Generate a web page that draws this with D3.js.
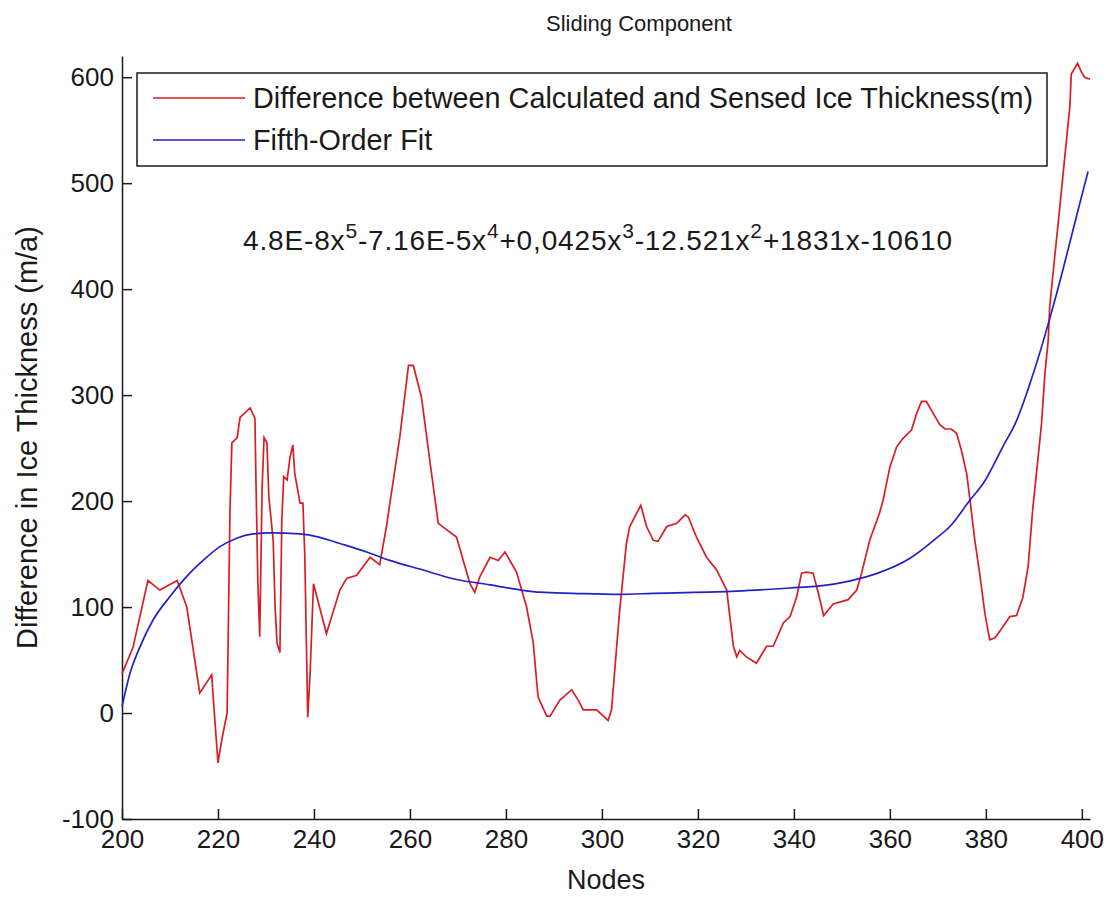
<!DOCTYPE html>
<html>
<head>
<meta charset="utf-8">
<script src="https://cdn.jsdelivr.net/npm/d3@7"></script>
<style>
  body { margin: 0; background: #fff; }
  text { font-family: "Liberation Sans", Arial, sans-serif; fill: #1a1a1a; }
</style>
</head>
<body>
<div id="chart"></div>
<script>
// data: node number and difference (m/a)
const redNodes = [200, 202.3, 205.4, 207.9, 211.5, 213.5, 216.2, 218.7, 219.0, 220.0,
  220.8, 221.9, 222.1, 222.5, 222.9, 224.0, 224.6, 226.7, 227.7, 227.9,
  228.3, 228.7, 229.2, 229.6, 230.2, 230.6, 231.5, 231.9, 232.3, 232.9,
  233.3, 233.7, 234.4, 235.0, 235.6, 236.0, 237.1, 237.7, 238.1, 238.7,
  239.2, 239.9, 242.6, 245.4, 246.8, 248.9, 251.7, 253.7, 255.1, 257.9,
  259.7, 260.7, 262.4, 264.2, 265.9, 267.6, 269.7, 272.5, 273.5, 274.6,
  276.7, 278.4, 279.8, 282.2, 284.3, 285.7, 286.7, 288.5, 289.2, 291.2,
  293.7, 295.1, 296.1, 298.9, 301.3, 302.0, 303.7, 305.1, 305.8, 308.1,
  309.3, 310.7, 311.7, 313.5, 315.6, 317.3, 318.0, 319.7, 321.8, 323.9,
  326.0, 327.4, 328.1, 328.7, 330.1, 332.2, 334.3, 335.7, 337.8, 339.2,
  340.6, 341.6, 342.6, 344.0, 345.1, 346.2, 348.2, 351.3, 353.1, 354.1,
  355.8, 357.8, 358.6, 360.0, 361.4, 362.7, 364.5, 365.6, 366.6, 367.6,
  369.0, 370.4, 371.5, 372.8, 373.9, 374.9, 376.0, 376.7, 377.7, 378.7,
  379.8, 380.8, 381.9, 383.5, 385.0, 386.4, 387.7, 388.8, 389.8, 390.9,
  391.6, 392.3, 393.0, 393.3, 394.0, 394.7, 395.4, 396.1, 396.8, 397.5,
  397.8, 399.1, 399.9, 400.6, 401.7];
const redDiff = [37, 62, 125, 116, 125, 100, 19, 36, 15, -47,
  -25, 0, 62, 191, 255, 260, 279, 288, 278, 223,
  125, 72, 213, 260, 255, 204, 163, 100, 66, 57,
  182, 223, 220, 241, 253, 226, 198, 198, 147, -4,
  38, 122, 75, 116, 127, 130, 147, 140, 176, 261,
  328, 328, 298, 236, 179, 173, 166, 122, 114, 129,
  147, 144, 152, 133, 100, 66, 15, -3, -3, 12,
  22, 12, 3, 3, -7, 3, 97, 160, 176, 196,
  176, 163, 162, 176, 179, 187, 185, 166, 147, 135,
  116, 63, 53, 59, 53, 47, 63, 63, 85, 91,
  110, 132, 133, 132, 113, 92, 103, 107, 116, 132,
  163, 188, 201, 232, 251, 259, 267, 283, 294, 294,
  283, 272, 268, 268, 264, 248, 226, 201, 163, 132,
  94, 69, 71, 81, 91, 92, 109, 138, 194, 242,
  273, 320, 352, 383, 415, 446, 477, 509, 541, 572,
  603, 613, 605, 600, 598];

// fifth-order fit
const fitNodes = [200, 201.7, 203.7, 206.5, 210, 213.5, 216.9, 220.4, 223.9, 227.3,
  230.8, 237.1, 241, 245.4, 251, 255.8, 262.7, 269.7, 276.7, 283.2,
  287.1, 294, 303.7, 310.6, 328, 339.2, 345.4, 352, 357.5, 364.2,
  369.7, 372.5, 376.7, 379.5, 383.5, 386.4, 389.2, 391.9, 393.3, 394.7,
  396.1, 397.5, 398.9, 400.2, 401.3];
const fitValues = [6, 38, 62, 88, 110, 129, 144, 157, 165, 169,
  170, 169, 166, 160, 152, 144, 135, 126, 121, 116,
  114, 113, 112, 113, 115, 118, 120, 125, 132, 146,
  165, 176, 201, 217, 251, 276, 311, 350, 372, 395,
  419, 444, 469, 492, 511];

const xTicks = [200, 220, 240, 260, 280, 300, 320, 340, 360, 380, 400];
const yTicks = [-100, 0, 100, 200, 300, 400, 500, 600];
const legendLabels = ["Difference between Calculated and Sensed Ice Thickness(m)", "Fifth-Order Fit"];

// svg container
const svgWidth = 1109, svgHeight = 897;
const margin = { top: 56, right: 19, bottom: 78, left: 122 };
const chartWidth = svgWidth - margin.left - margin.right;
const chartHeight = svgHeight - margin.top - margin.bottom;

const svg = d3.select("#chart").append("svg")
  .attr("width", svgWidth)
  .attr("height", svgHeight);

const chartGroup = svg.append("g")
  .attr("transform", `translate(${margin.left}, ${margin.top})`);

// scales
const xScale = d3.scaleLinear().domain([200, 401.7]).range([0, chartWidth]);
const yScale = d3.scaleLinear().domain([-100, 620]).range([chartHeight, 0]);

// axes, ticks point inward like matlab, plain hyphen for negatives
const xAxis = d3.axisBottom(xScale).tickValues(xTicks).tickFormat(d => String(d))
  .tickSizeInner(-10).tickSizeOuter(0).tickPadding(11);
const yAxis = d3.axisLeft(yScale).tickValues(yTicks).tickFormat(d => String(d))
  .tickSizeInner(-10).tickSizeOuter(0).tickPadding(8);

const gx = chartGroup.append("g")
  .attr("transform", `translate(0, ${chartHeight})`)
  .call(xAxis);
const gy = chartGroup.append("g")
  .call(yAxis);

[gx, gy].forEach(g => {
  g.attr("font-size", 26).attr("font-family", null);
  g.selectAll("path, line").attr("stroke", "#1a1a1a").attr("stroke-width", 1.5);
  g.selectAll("text").attr("fill", "#1a1a1a");
});

// lines
const redLine = d3.line()
  .x((d, i) => xScale(redNodes[i]))
  .y(d => yScale(d));
const fitLine = d3.line()
  .x((d, i) => xScale(fitNodes[i]))
  .y(d => yScale(d))
  .curve(d3.curveMonotoneX);

chartGroup.append("path")
  .datum(redDiff)
  .attr("d", redLine)
  .attr("fill", "none")
  .attr("stroke", "#d81e24")
  .attr("stroke-width", 1.7);

chartGroup.append("path")
  .datum(fitValues)
  .attr("d", fitLine)
  .attr("fill", "none")
  .attr("stroke", "#2222c4")
  .attr("stroke-width", 1.7);

// legend
const legend = svg.append("g");
legend.append("rect")
  .attr("x", 137).attr("y", 73)
  .attr("width", 910).attr("height", 93)
  .attr("fill", "#fff")
  .attr("stroke", "#1a1a1a")
  .attr("stroke-width", 1.5);

const legendColors = ["#d81e24", "#2222c4"];
legendLabels.forEach((label, i) => {
  const y = 98 + i * 42;
  legend.append("line")
    .attr("x1", 153).attr("x2", 245)
    .attr("y1", y).attr("y2", y)
    .attr("stroke", legendColors[i])
    .attr("stroke-width", 1.7);
  legend.append("text")
    .attr("x", 253).attr("y", y + 10)
    .attr("font-size", 28.8)
    .text(label);
});

// fit equation, base text and superscript exponents
const eqParts = [["4.8E-8x", "5"], ["-7.16E-5x", "4"], ["+0,0425x", "3"], ["-12.521x", "2"], ["+1831x-10610", ""]];
const eq = svg.append("text")
  .attr("x", 243).attr("y", 250)
  .attr("textLength", 709)
  .attr("lengthAdjust", "spacing")
  .attr("font-size", 28);
eqParts.forEach((p, i) => {
  eq.append("tspan").attr("dy", i === 0 ? 0 : 12).text(p[0]);
  if (p[1]) {
    eq.append("tspan").attr("font-size", 21).attr("dy", -12).text(p[1]);
  }
});

// titles
svg.append("text")
  .attr("x", 639).attr("y", 31)
  .attr("text-anchor", "middle")
  .attr("font-size", 22)
  .text("Sliding Component");

svg.append("text")
  .attr("x", margin.left + chartWidth / 2).attr("y", 889)
  .attr("text-anchor", "middle")
  .attr("font-size", 27)
  .text("Nodes");

svg.append("text")
  .attr("transform", `translate(37, ${margin.top + chartHeight / 2}) rotate(-90)`)
  .attr("text-anchor", "middle")
  .attr("font-size", 29)
  .text("Difference in Ice Thickness (m/a)");
</script>
</body>
</html>
